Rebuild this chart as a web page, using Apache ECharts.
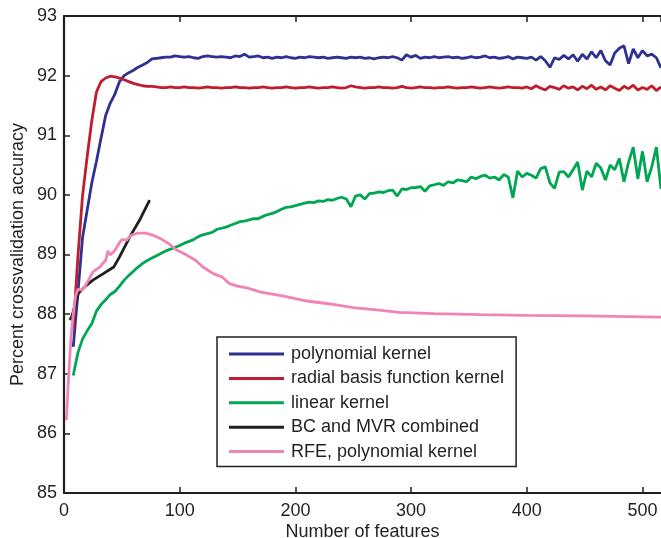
<!DOCTYPE html>
<html>
<head>
<meta charset="utf-8">
<script src="https://cdn.jsdelivr.net/npm/echarts@6/dist/echarts.min.js"></script>
<style>
  html, body { margin: 0; padding: 0; background: #fff; }
  #main { width: 661px; height: 538px; }
</style>
</head>
<body>
<div id="main"></div>
<script>
// dense curves are sampled every 4 features, starting at 8
var featStart = 8, featStep = 4;

var polyAcc = [
    87.45, 88.35, 89.28, 89.74, 90.20, 90.56, 90.95, 91.33,
    91.54, 91.69, 91.90, 92.00, 92.05, 92.09, 92.14, 92.18,
    92.22, 92.28, 92.29, 92.30, 92.31, 92.31, 92.33, 92.32,
    92.31, 92.32, 92.30, 92.29, 92.32, 92.33, 92.32, 92.31,
    92.32, 92.31, 92.30, 92.33, 92.32, 92.36, 92.31, 92.32,
    92.33, 92.30, 92.31, 92.29, 92.31, 92.30, 92.32, 92.30,
    92.29, 92.31, 92.30, 92.32, 92.31, 92.30, 92.31, 92.29,
    92.30, 92.31, 92.30, 92.29, 92.31, 92.30, 92.31, 92.29,
    92.30, 92.28, 92.30, 92.31, 92.30, 92.32, 92.30, 92.26,
    92.35, 92.31, 92.34, 92.29, 92.31, 92.30, 92.32, 92.30,
    92.31, 92.32, 92.30, 92.31, 92.29, 92.30, 92.32, 92.30,
    92.31, 92.33, 92.30, 92.31, 92.29, 92.30, 92.32, 92.28,
    92.31, 92.30, 92.29, 92.31, 92.26, 92.32, 92.25, 92.14,
    92.30, 92.27, 92.34, 92.28, 92.35, 92.24, 92.36, 92.28,
    92.40, 92.30, 92.42, 92.25, 92.18, 92.38, 92.46, 92.50,
    92.20, 92.45, 92.30, 92.42, 92.33, 92.36, 92.30, 92.13
];
var rbfAcc = [
    87.75, 88.96, 89.98, 90.64, 91.24, 91.72, 91.90, 91.96,
    91.99, 91.98, 91.96, 91.93, 91.90, 91.87, 91.85, 91.83,
    91.82, 91.82, 91.81, 91.80, 91.80, 91.81, 91.80, 91.80,
    91.81, 91.80, 91.80, 91.79, 91.80, 91.81, 91.80, 91.80,
    91.79, 91.80, 91.80, 91.81, 91.80, 91.80, 91.79, 91.80,
    91.80, 91.81, 91.80, 91.79, 91.80, 91.80, 91.81, 91.80,
    91.79, 91.80, 91.80, 91.81, 91.80, 91.79, 91.80, 91.80,
    91.81, 91.80, 91.79, 91.80, 91.83, 91.81, 91.80, 91.79,
    91.80, 91.80, 91.81, 91.80, 91.80, 91.79, 91.80, 91.82,
    91.80, 91.79, 91.80, 91.81, 91.80, 91.80, 91.79, 91.80,
    91.80, 91.81, 91.80, 91.79, 91.80, 91.80, 91.81, 91.80,
    91.79, 91.80, 91.81, 91.80, 91.79, 91.80, 91.81, 91.80,
    91.80, 91.79, 91.81, 91.78, 91.83, 91.79, 91.76, 91.82,
    91.80, 91.77, 91.83, 91.79, 91.81, 91.76, 91.82, 91.78,
    91.84, 91.77, 91.81, 91.76, 91.83, 91.79, 91.75, 91.82,
    91.78, 91.84, 91.76, 91.80, 91.77, 91.83, 91.75, 91.81
];
var linAcc = [
    86.97, 87.35, 87.58, 87.72, 87.84, 88.05, 88.16, 88.24,
    88.33, 88.38, 88.47, 88.57, 88.65, 88.72, 88.79, 88.85,
    88.90, 88.94, 88.98, 89.02, 89.06, 89.09, 89.12, 89.15,
    89.19, 89.22, 89.25, 89.30, 89.33, 89.35, 89.37, 89.42,
    89.44, 89.46, 89.49, 89.52, 89.55, 89.56, 89.58, 89.60,
    89.60, 89.64, 89.67, 89.69, 89.72, 89.76, 89.79, 89.80,
    89.82, 89.84, 89.86, 89.88, 89.87, 89.90, 89.89, 89.92,
    89.91, 89.94, 89.96, 89.93, 89.80, 89.98, 90.00, 89.93,
    90.02, 90.03, 90.05, 90.04, 90.07, 90.08, 89.98, 90.10,
    90.09, 90.12, 90.12, 90.14, 90.06, 90.15, 90.17, 90.19,
    90.16, 90.22, 90.20, 90.25, 90.24, 90.22, 90.30, 90.27,
    90.31, 90.33, 90.28, 90.30, 90.25, 90.34, 90.30, 89.95,
    90.40, 90.30, 90.36, 90.33, 90.28, 90.44, 90.47, 90.20,
    90.11, 90.38, 90.39, 90.30, 90.42, 90.55, 90.08, 90.40,
    90.30, 90.53, 90.45, 90.25, 90.50, 90.42, 90.61, 90.22,
    90.55, 90.80, 90.27, 90.73, 90.22, 90.47, 90.80, 90.10
];

var bcFeat = [5, 6.6, 9.5, 12.4, 18, 25, 34, 43, 48, 57, 66, 74];
var bcAcc = [87.90, 87.95, 88.15, 88.35, 88.46, 88.57, 88.68, 88.79, 88.96, 89.30, 89.60, 89.91];

var rfeFeat = [2, 4, 6, 8, 10, 12, 15, 18, 22, 25, 28, 31, 34, 36, 38, 40, 44, 48, 50, 54,
    58, 64, 70, 76, 83, 90, 97, 106, 114, 120, 129, 137, 143, 150, 160, 170, 190, 210, 230, 250,
    270, 290, 320, 360, 400, 450, 516];
var rfeAcc = [86.22, 86.95, 87.60, 88.00, 88.30, 88.42, 88.40, 88.46, 88.60, 88.71,
    88.75, 88.79, 88.86, 88.90, 89.06, 88.99, 89.07, 89.20, 89.25, 89.24,
    89.32, 89.36, 89.36, 89.33, 89.27, 89.19, 89.08, 88.99, 88.90, 88.79,
    88.68, 88.62, 88.51, 88.47, 88.43, 88.37, 88.30, 88.22, 88.17, 88.11,
    88.07, 88.03, 88.01, 87.99, 87.98, 87.97, 87.95];

var seriesNames = ['polynomial kernel', 'radial basis function kernel', 'linear kernel',
    'BC and MVR combined', 'RFE, polynomial kernel'];
var seriesColors = ['#2e3192', '#be1e2d', '#00a651', '#231f20', '#f283b6'];

var xMin = 0, xMax = 516, xStep = 100;
var yMin = 85, yMax = 93, yStep = 1;

function dense(vals) {
    return vals.map(function (v, i) { return [featStart + i * featStep, v]; });
}
function zip(xs, ys) {
    return xs.map(function (x, i) { return [x, ys[i]]; });
}

var font = "'Liberation Sans', Arial, Helvetica, sans-serif";
var ink = '#231f20';

var chart = echarts.init(document.getElementById('main'));
var dataSets = [dense(polyAcc), dense(rbfAcc), dense(linAcc), zip(bcFeat, bcAcc), zip(rfeFeat, rfeAcc)];

var option = {
    animation: false,
    backgroundColor: '#fff',
    textStyle: { fontFamily: font },
    grid: { left: 64, top: 16, right: 0, bottom: 45, containLabel: false, outerBoundsMode: 'none' },
    legend: {
        orient: 'vertical',
        left: 217,
        top: 337,
        padding: [7, 12, 5, 12],
        itemGap: 4.4,
        itemWidth: 55,
        itemHeight: 3,
        icon: 'rect',
        borderColor: ink,
        borderWidth: 1.5,
        backgroundColor: '#fff',
        data: seriesNames,
        textStyle: { fontSize: 18, color: ink, lineHeight: 20, fontFamily: font, padding: [0, 0, 0, 2] }
    },
    xAxis: [{
        type: 'value',
        min: xMin, max: xMax, interval: xStep,
        name: 'Number of features',
        nameLocation: 'middle',
        nameGap: 30,
        nameMoveOverlap: false,
        nameTextStyle: { fontSize: 18, color: ink, fontFamily: font },
        axisLine: { lineStyle: { color: ink, width: 2.2 } },
        axisTick: { inside: true, length: 6, lineStyle: { color: ink, width: 1.5 } },
        axisLabel: { fontSize: 18, color: ink, margin: 9, showMaxLabel: false, fontFamily: font },
        splitLine: { show: false }
    }, {
        type: 'value',
        position: 'top',
        min: xMin, max: xMax, interval: xStep,
        axisLine: { lineStyle: { color: ink, width: 2.2 } },
        axisTick: { inside: true, length: 6, lineStyle: { color: ink, width: 1.5 } },
        axisLabel: { show: false },
        splitLine: { show: false }
    }],
    yAxis: {
        type: 'value',
        min: yMin, max: yMax, interval: yStep,
        name: 'Percent crossvalidation accuracy',
        nameLocation: 'middle',
        nameGap: 37,
        nameMoveOverlap: false,
        nameTextStyle: { fontSize: 18, color: ink, fontFamily: font },
        axisLine: { show: true, lineStyle: { color: ink, width: 2.2 } },
        axisTick: { show: true, inside: true, length: 6, lineStyle: { color: ink, width: 1.5 } },
        axisLabel: { fontSize: 18, color: ink, margin: 7, fontFamily: font },
        splitLine: { show: false }
    },
    series: seriesNames.map(function (name, i) {
        return {
            name: name,
            type: 'line',
            data: dataSets[i],
            showSymbol: false,
            symbol: 'none',
            clip: true,
            color: seriesColors[i],
            lineStyle: { color: seriesColors[i], width: 2.8 },
            z: i === 2 ? 1 : 2
        };
    })
};

chart.setOption(option);
</script>
</body>
</html>
